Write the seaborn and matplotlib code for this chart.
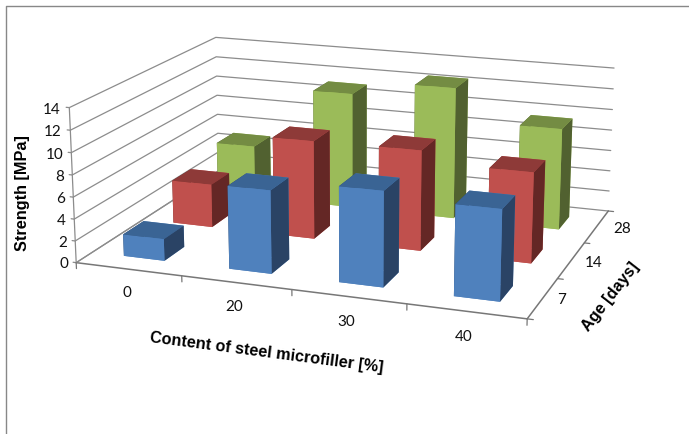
import numpy as np
import seaborn as sns
import matplotlib
matplotlib.use("Agg")
import matplotlib.pyplot as plt
from matplotlib.lines import Line2D
from mpl_toolkits.mplot3d import proj3d

contents = ["0", "20", "30", "40"]
ages = ["7", "14", "28"]
strength_7 = [2.0, 7.5, 8.5, 8.0]
strength_14 = [4.1, 9.2, 9.3, 8.3]
strength_28 = [5.1, 11.2, 12.6, 9.6]
z_ticks = [0, 2, 4, 6, 8, 10, 12, 14]

front_colors = ["#4F81BD", "#C0504D", "#9BBB59"]
top_colors = ["#3A6494", "#8E3A38", "#748C43"]
side_colors = ["#2A4365", "#642725", "#516130"]

sns.set_theme(style="white")
W, H, S = 689, 434, 900
cx, cy = 341.7, 174.35
fig = plt.figure(figsize=(W / 100, H / 100), dpi=100)
ax = fig.add_axes([(cx - S / 2) / W, (H - cy - S / 2) / H, S / W, S / H], projection="3d")
ax.computed_zorder = False
ax.set_proj_type("persp", focal_length=0.3729)
ax.view_init(elev=15.9062, azim=-70.1745)
ax.set_box_aspect((3, 2.2649, 1.0335), zoom=0.6293)
ax.set_xlim(0, 4)
ax.set_ylim(0, 3)
ax.set_zlim(0, 14)
ax.set_axis_off()
ax.apply_aspect()

grid = "#8C8C8C"
for z in z_ticks:
    ax.plot([0, 0, 4], [0, 3, 3], [z, z, z], color=grid, lw=0.9, zorder=1)
    ax.plot([0, -0.03], [0, 0], [z, z], color=grid, lw=0.9, zorder=1)
ax.plot([0, 0], [0, 0], [0, 14], color=grid, lw=0.9, zorder=1)
ax.plot([0, 4, 4], [0, 0, 3], [0, 0, 0], color="#777777", lw=1.1, zorder=2)
ax.plot([0, 0], [0, 3], [0, 0], color=grid, lw=0.9, zorder=2)
for i in range(5):
    ax.plot([i, i], [0, 0], [0, -0.55], color="#777777", lw=0.9, zorder=2)
for j in range(4):
    ax.plot([4, 4.05], [j, j], [0, 0], color="#777777", lw=0.9, zorder=2)

series = [strength_7, strength_14, strength_28]
bw, bd = 0.39, 0.40
order = 10
for j in (2, 1, 0):
    for i in range(4):
        faces = [front_colors[j], top_colors[j], front_colors[j],
                 front_colors[j], side_colors[j], side_colors[j]]
        ax.bar3d(i + 0.5 - bw / 2, j + 0.5 - bd / 2, 0, bw, bd, series[j][i],
                 color=faces, shade=False, linewidth=0, zorder=order)
        order += 1

# Tick labels stay flat on the screen, anchored at their projected 3D positions
tick_font = {"family": ["Lato", "DejaVu Sans"], "fontsize": 11, "color": "#111111"}
projection = ax.get_proj()


def flat_label(x, y, z, label, ha):
    px, py, _ = proj3d.proj_transform(x, y, z, projection)
    ax.text2D(px, py, label, transform=ax.transData, ha=ha, va="center", zorder=50, **tick_font)


for z in z_ticks:
    flat_label(-0.08, 0, z - 0.25, str(z), "right")
for i, label in enumerate(contents):
    flat_label(i + 0.63 - 0.02 * i, -0.3, -1.0, label, "center")
for j, label in enumerate(ages):
    flat_label(4.16 + 0.04 * j, j + 0.5, 0, label, "center")

title_font = {"family": "Liberation Sans", "weight": "bold", "fontsize": 11.7,
              "ha": "center", "va": "center", "color": "black"}
fig.text(267 / W, 1 - 353 / H, "Content of steel microfiller [%]", rotation=-7.4, **title_font)
fig.text(23 / W, 1 - 193 / H, "Strength [MPa]", rotation=90, **title_font)
fig.text(611 / W, 1 - 297 / H, "Age [days]", rotation=52, **title_font)

fig.add_artist(Line2D([6 / W, 6 / W, 1], [0, 1 - 6 / H, 1 - 6 / H], color="#888888", lw=1))

fig.savefig("out.png", dpi=100)
